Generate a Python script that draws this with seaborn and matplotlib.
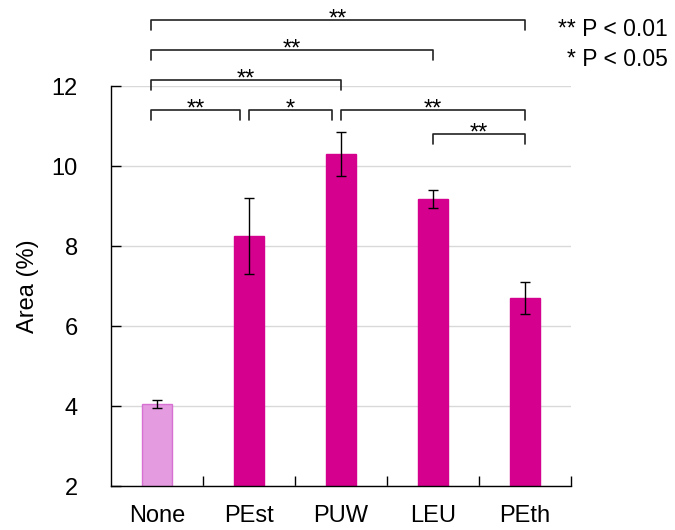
import numpy as np
import pandas as pd
import matplotlib
matplotlib.use('Agg')
import matplotlib.pyplot as plt
import seaborn as sns

# Bar values
groups = ['None', 'PEst', 'PUW', 'LEU', 'PEth']
area = [4.05, 8.25, 10.3, 9.18, 6.7]
err = [0.1, 0.95, 0.55, 0.22, 0.4]

# significance brackets: (left group, right group, height, label)
bracket_left = [0, 0, 0, 0, 1, 2, 3]
bracket_right = [4, 3, 2, 1, 2, 4, 4]
bracket_level = [13.65, 12.9, 12.15, 11.4, 11.4, 11.4, 10.8]
bracket_label = ['**', '**', '**', '**', '*', '**', '**']

sns.set_style('white')
plt.rcParams['font.family'] = ['Liberation Sans', 'DejaVu Sans']
plt.rcParams['text.color'] = 'black'
plt.rcParams['axes.labelcolor'] = 'black'
plt.rcParams['xtick.color'] = 'black'
plt.rcParams['ytick.color'] = 'black'

df = pd.DataFrame({'group': groups, 'area': area})
bar_colors = ['#E49BE0', '#D6008F', '#D6008F', '#D6008F', '#D6008F']
edge_colors = ['#D870D4', '#D6008F', '#D6008F', '#D6008F', '#D6008F']

fig = plt.figure(figsize=(6.75, 5.3), dpi=100)
ax = fig.add_axes([0.1644, 0.083, 0.6815, 0.7547])

sns.barplot(data=df, x='group', y='area', hue='group', palette=bar_colors,
            saturation=1, width=0.33, legend=False, ax=ax, zorder=2)
for patch, ec in zip(ax.patches, edge_colors):
    patch.set_edgecolor(ec)
    patch.set_linewidth(1)

ax.errorbar(np.arange(len(groups)), area, yerr=err, fmt='none', ecolor='black',
            elinewidth=1, capsize=3.5, capthick=1, zorder=3)

ax.set_ylim(2, 12)
ax.set_xlim(-0.5, 4.5)
ax.set_yticks([2, 4, 6, 8, 10, 12])
ax.yaxis.grid(True, color='#d9d9d9', linewidth=1)
ax.set_axisbelow(True)

ax.set_xticks(np.arange(len(groups)))
ax.set_xticklabels(groups)
ax.set_xticks(np.arange(0.5, 5, 1), minor=True)
ax.tick_params(axis='x', which='major', bottom=True, length=0, pad=14, labelsize=17)
ax.tick_params(axis='x', which='minor', bottom=True, direction='in', length=7, width=1)
ax.tick_params(axis='y', left=True, direction='in', length=7, width=1, pad=24, labelsize=17)
ax.set_xlabel('')
ax.set_ylabel('Area (%)', fontsize=17, labelpad=9)

for side in ['top', 'right']:
    ax.spines[side].set_visible(False)
for side in ['left', 'bottom']:
    ax.spines[side].set_color('black')
    ax.spines[side].set_linewidth(1)

# brackets
starts_per_level = {}
for l, lev in zip(bracket_left, bracket_level):
    starts_per_level.setdefault(lev, []).append(l)
for l, r, lev, lab in zip(bracket_left, bracket_right, bracket_level, bracket_label):
    x0 = l - 0.06 if l == 0 else l + 0.0
    x1 = r - 0.1 if r in starts_per_level[lev] else r
    ax.plot([x0, x0, x1, x1], [lev - 0.25, lev, lev, lev - 0.25], color='#222222',
            linewidth=1.2, clip_on=False, zorder=4)
    ax.text((x0 + x1) / 2, lev - 0.14, lab, ha='center', va='baseline', fontsize=17,
            clip_on=False)

fig.text(0.99, 0.945, '** P < 0.01', ha='right', va='center', fontsize=16.5)
fig.text(0.99, 0.888, '* P < 0.05', ha='right', va='center', fontsize=16.5)

fig.savefig('out.png', dpi=100)
